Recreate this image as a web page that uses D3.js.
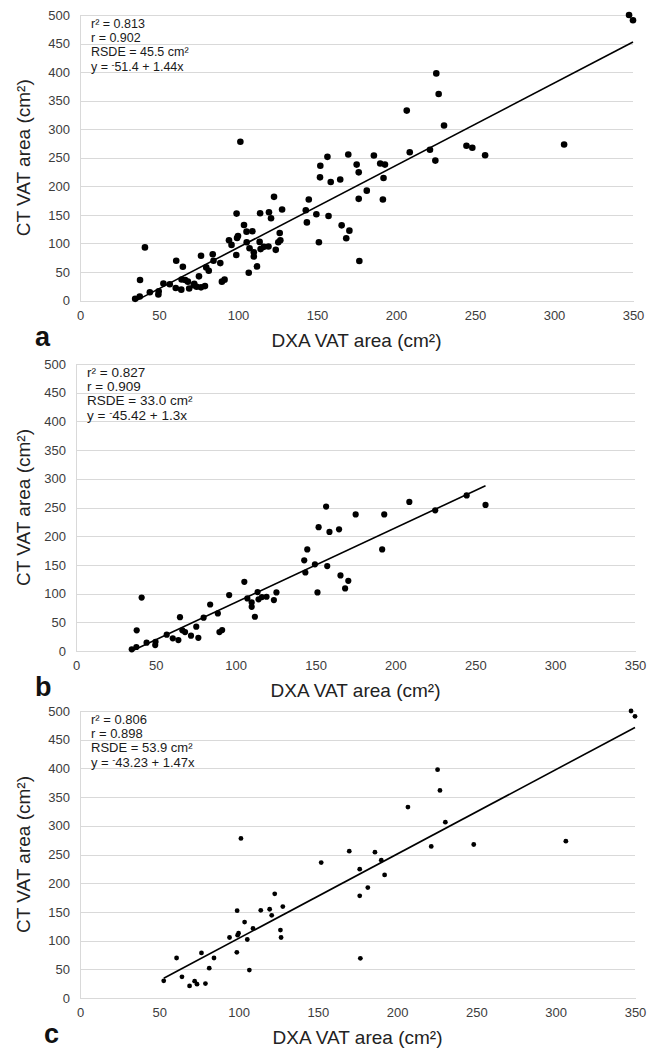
<!DOCTYPE html>
<html>
<head>
<meta charset="utf-8">
<script src="https://cdn.jsdelivr.net/npm/d3@7"></script>
<style>
body{margin:0;background:#fff;}
svg text{font-family:"Liberation Sans",Arial,sans-serif;}
</style>
</head>
<body>
<div id="chart"></div>
<script>
// panel b: DXA vs CT VAT area (cm2)
const bDxa = [34.9,37.8,38.0,41.1,44.2,49.8,49.6,56.8,60.6,64.1,65.1,66.6,68.3,72.0,75.3,76.6,79.9,84.0,88.8,89.8,91.5,95.9,105.4,107.3,110,110,112,113.7,114.3,116.4,119.3,123.9,125.5,
  143.6,142.9,144.8,149.6,151.2,151.9,156.6,157.3,158.7,164.7,165.6,168.5,170.5,175.1,191.7,193,208.7,224.9,244.6,256.4];
const bCt = [2.9,7,36,93,14.5,16,10.4,28.4,22,19,59,36,33,26.7,42.3,23,58,81,65.5,33,36.5,97.4,120.6,91.6,84.6,77,59.7,102.6,90,94,94.5,88.7,102,
  136.8,158,177,151,102,215.7,251.6,148,207.5,212,131.6,109,122.3,238,177,238,259.7,245,271,254.5];

// panel c
const cDxa = [52.8,60.9,64.3,69.1,72.3,73.8,76.6,79.1,81.5,84.5,94.3,98.9,99.1,99.4,100,101.5,103.8,105.5,106.8,109.1,114,119.6,120.9,122.8,126.4,126.8,127.9,
  152.1,169.8,176.4,176.4,176.8,181.5,186,190,192.1,206.8,221.5,225.5,227,230.4,248.3,
  306.4,347.5,350];
const cCt = [29.9,69.7,36.9,21,29.3,24,78.5,25.2,52,69.7,105.4,79.6,152.2,109.5,113,278,132.3,101.9,48.6,121.2,152.8,154.6,144,181.5,118.3,105.4,159.3,
  236,255.8,224.4,178,69.2,192.4,254,240,214.5,332.6,264,397.7,361.6,306.4,267.4,
  273.3,500,490.7];

// panel a = both groups together
const aDxa = bDxa.concat(cDxa);
const aCt = bCt.concat(cCt);

const panelNames = ["a", "b", "c"];
const r2Labels = ["0.813", "0.827", "0.806"];
const rLabels = ["0.902", "0.909", "0.898"];
const rsdeLabels = ["45.5", "33.0", "53.9"];
const intercepts = [-51.4, -45.42, -43.23];
const slopes = [1.44, 1.3, 1.47];

const xTicks = [0, 50, 100, 150, 200, 250, 300, 350];
const yTicks = [0, 50, 100, 150, 200, 250, 300, 350, 400, 450, 500];

const panelData = [[aDxa, aCt], [bDxa, bCt], [cDxa, cCt]];

// positions of each panel on the page
const layout = [
  {left: 80, right: 633, top: 15, bottom: 300.5, annSize: 12.5, dotR: 3.3, letterX: 35},
  {left: 76, right: 635, top: 364, bottom: 651, annSize: 13.5, dotR: 3.1, letterX: 35},
  {left: 80, right: 635, top: 711, bottom: 998, annSize: 13, dotR: 2.4, letterX: 44}
];

const gridColor = "#d9d9d9";
const tickColor = "#3c3c3c";
const titleColor = "#222";

const svg = d3.select("#chart").append("svg")
  .attr("width", 650)
  .attr("height", 1053);

svg.append("rect").attr("width", 650).attr("height", 1053).attr("fill", "#fff");

function drawPanel(i) {
  const L = layout[i];
  const [xs, ys] = panelData[i];
  const g = svg.append("g").attr("class", "panel-" + panelNames[i]);

  const x = d3.scaleLinear().domain([0, 350]).range([L.left, L.right]);
  const y = d3.scaleLinear().domain([0, 500]).range([L.bottom, L.top]);

  // y axis with full-width gridlines
  const yAxisG = g.append("g")
    .attr("transform", "translate(" + L.left + ",0)")
    .call(d3.axisLeft(y).tickValues(yTicks).tickSize(-(L.right - L.left)).tickSizeOuter(0).tickPadding(10));
  yAxisG.selectAll("line").attr("stroke", gridColor).attr("shape-rendering", "crispEdges");
  yAxisG.select(".domain").attr("stroke", gridColor).attr("shape-rendering", "crispEdges");
  yAxisG.selectAll("text").attr("font-size", 13).attr("fill", tickColor)
    .style("font-family", "'Liberation Sans', Arial, sans-serif");

  // x axis, labels only
  const xAxisG = g.append("g")
    .attr("transform", "translate(0," + L.bottom + ")")
    .call(d3.axisBottom(x).tickValues(xTicks).tickSize(0).tickPadding(10));
  xAxisG.select(".domain").attr("stroke", gridColor).attr("shape-rendering", "crispEdges");
  xAxisG.selectAll("text").attr("font-size", 13).attr("fill", tickColor)
    .style("font-family", "'Liberation Sans', Arial, sans-serif");

  // trend line over the data range
  const ext = d3.extent(xs);
  const fit = (v) => intercepts[i] + slopes[i] * v;
  g.append("path")
    .datum(ext)
    .attr("fill", "none")
    .attr("stroke", "#000")
    .attr("stroke-width", 1.6)
    .attr("d", d3.line().x(d => x(d)).y(d => y(fit(d))));

  // markers
  g.selectAll(".dot")
    .data(xs.map((v, k) => [v, ys[k]]))
    .join("circle")
    .attr("class", "dot")
    .attr("cx", d => x(d[0]))
    .attr("cy", d => y(d[1]))
    .attr("r", L.dotR)
    .attr("fill", "#000");

  // stats box text
  const ann = g.append("g")
    .attr("font-size", L.annSize)
    .attr("fill", "#1a1a1a");
  const ax = L.left + 11;
  const ay = L.top + 13;
  const lh = 14.2;
  ann.append("text").attr("x", ax).attr("y", ay).text("r² = " + r2Labels[i]);
  ann.append("text").attr("x", ax).attr("y", ay + lh).text("r = " + rLabels[i]);
  ann.append("text").attr("x", ax).attr("y", ay + 2 * lh).text("RSDE = " + rsdeLabels[i] + " cm²");
  const eq = ann.append("text").attr("x", ax).attr("y", ay + 3 * lh);
  eq.append("tspan").text("y = ");
  eq.append("tspan").attr("font-size", "70%").attr("dy", "-0.35em").text(intercepts[i] < 0 ? "-" : "");
  eq.append("tspan").attr("dy", "0.25em").text(Math.abs(intercepts[i]) + " + " + slopes[i] + "x");

  // axis titles
  g.append("text")
    .attr("x", (L.left + L.right) / 2)
    .attr("y", L.bottom + 46)
    .attr("text-anchor", "middle")
    .attr("font-size", 19)
    .attr("fill", titleColor)
    .text("DXA VAT area (cm²)");

  g.append("text")
    .attr("transform", "translate(30," + ((L.top + L.bottom) / 2) + ") rotate(-90)")
    .attr("text-anchor", "middle")
    .attr("font-size", 19)
    .attr("fill", titleColor)
    .text("CT VAT area (cm²)");

  // panel letter
  g.append("text")
    .attr("x", L.letterX)
    .attr("y", L.bottom + 45)
    .attr("font-size", 27)
    .attr("font-weight", "bold")
    .attr("fill", "#111")
    .text(panelNames[i]);
}

panelNames.forEach((n, i) => drawPanel(i));
</script>
</body>
</html>
